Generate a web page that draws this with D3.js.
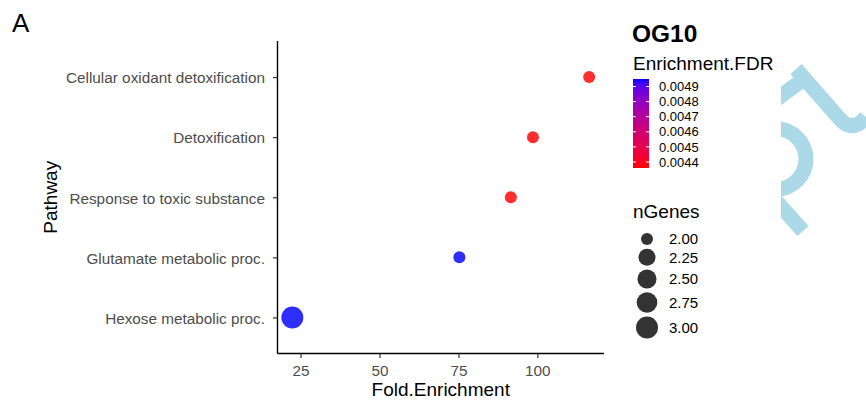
<!DOCTYPE html>
<html>
<head>
<meta charset="utf-8">
<script src="https://cdn.jsdelivr.net/npm/d3@7/dist/d3.min.js"></script>
<style>
  html, body { margin: 0; padding: 0; background: #fff; }
  svg { display: block; font-family: "Liberation Sans", Arial, Helvetica, sans-serif; }
</style>
</head>
<body>
<svg id="chart" width="866" height="402"></svg>
<script>
// ---- data ----
const pathways = [
  "Cellular oxidant detoxification",
  "Detoxification",
  "Response to toxic substance",
  "Glutamate metabolic proc.",
  "Hexose metabolic proc."
];
const foldEnrichment = [116.4, 98.6, 91.6, 75.3, 22.4];
const enrichmentFDR = [0.00436, 0.00436, 0.00436, 0.00495, 0.00495];
const nGenes = [2, 2, 2, 2, 3];
const xTicks = [25, 50, 75, 100];
const fdrTicks = [0.0044, 0.0045, 0.0046, 0.0047, 0.0048, 0.0049];
const sizeTicks = [2.00, 2.25, 2.50, 2.75, 3.00];
const titleText = "OG10";
const panelLabel = "A";

const data = pathways.map((p, i) => ({
  pathway: p, fe: foldEnrichment[i], fdr: enrichmentFDR[i], n: nGenes[i]
}));

const svg = d3.select("#chart");

// ---- layout ----
const P = { left: 277.5, right: 604, top: 41, bottom: 353.5 };

// ggplot-like 5% expansion
const xmin = d3.min(foldEnrichment), xmax = d3.max(foldEnrichment);
const xexp = (xmax - xmin) * 0.05;
const x = d3.scaleLinear().domain([xmin - xexp, xmax + xexp]).range([P.left, P.right]);
const y = d3.scalePoint().domain(pathways).range([P.top, P.bottom]).padding(0.6);

const fdrExtent = d3.extent(enrichmentFDR);
const color = d3.scaleLinear().domain(fdrExtent).range(["red", "blue"]).interpolate(d3.interpolateLab);

const nExtent = d3.extent(nGenes);
const norm = d3.scaleLinear().domain(nExtent).range([0, 1]);
const rArea = d3.scaleSqrt().domain([0, 1]).range([6, 11]);
const radius = v => rArea(norm(v));

// ---- watermark (decorative) ----
const defs = svg.append("defs");
defs.append("clipPath").attr("id", "wmclip")
  .append("rect").attr("x", 781).attr("y", 0).attr("width", 100).attr("height", 402);
const wm = svg.append("g").attr("clip-path", "url(#wmclip)")
  .attr("fill", "none").attr("stroke", "#acd9e7").attr("stroke-width", 15);
wm.append("path").attr("d", "M770 104 L808 76");
wm.append("path").attr("d", "M796 69 L839 118 Q852 134 866 117");
wm.append("path").attr("d", d3.arc()({innerRadius: 23, outerRadius: 38, startAngle: 0, endAngle: Math.PI}))
  .attr("transform", "translate(775.5,159)").attr("fill", "#acd9e7").attr("stroke", "none");
wm.append("path").attr("d", "M768 192 L803 231");

// ---- axes ----
const gx = svg.append("g").attr("transform", `translate(0,${P.bottom})`)
  .call(d3.axisBottom(x).tickValues(xTicks).tickSize(4.5).tickPadding(7).tickFormat(d3.format("d")));
gx.select(".domain").attr("stroke", "#000").attr("stroke-width", 1.4);
gx.selectAll(".tick line").attr("stroke", "#333").attr("stroke-width", 1.2);
gx.selectAll(".tick text").attr("fill", "#4d4d4d").attr("font-size", 15.3)
  .attr("font-family", "Liberation Sans, Arial, sans-serif");

const gy = svg.append("g").attr("transform", `translate(${P.left},0)`)
  .call(d3.axisLeft(y).tickSize(4.5).tickPadding(8));
gy.select(".domain").attr("stroke", "#000").attr("stroke-width", 1.4);
gy.selectAll(".tick line").attr("stroke", "#333").attr("stroke-width", 1.2);
gy.selectAll(".tick text").attr("fill", "#4d4d4d").attr("font-size", 15.3)
  .attr("font-family", "Liberation Sans, Arial, sans-serif").attr("dy", "0.38em");
gx.select(".domain").attr("d", `M${P.left},0H${P.right}`);
gy.select(".domain").attr("d", `M0,${P.top}V${P.bottom}`);

// axis titles
svg.append("text").attr("x", (P.left + P.right) / 2).attr("y", 396)
  .attr("text-anchor", "middle").attr("font-size", 19).attr("fill", "#000").text("Fold.Enrichment");
svg.append("text").attr("transform", `translate(57,${(P.top + P.bottom) / 2}) rotate(-90)`)
  .attr("text-anchor", "middle").attr("font-size", 19).attr("fill", "#000").text("Pathway");

// ---- points ----
svg.append("g").selectAll("circle").data(data).join("circle")
  .attr("cx", d => x(d.fe)).attr("cy", d => y(d.pathway))
  .attr("r", d => radius(d.n))
  .attr("fill", d => color(d.fdr)).attr("fill-opacity", 0.82);

// ---- panel label ----
svg.append("text").attr("x", 12).attr("y", 32).attr("font-size", 26).attr("fill", "#000").text(panelLabel);

// ---- legend: title ----
svg.append("text").attr("x", 632).attr("y", 42).attr("font-size", 24.5).attr("font-weight", "bold")
  .attr("fill", "#000").text(titleText);
svg.append("text").attr("x", 633).attr("y", 70).attr("font-size", 19).attr("fill", "#000").text("Enrichment.FDR");

// ---- colorbar ----
const CB = { x: 633, w: 16, top: 79, bottom: 168 };
const cb = d3.scaleLinear().domain(fdrExtent).range([CB.bottom, CB.top]);
const grad = defs.append("linearGradient").attr("id", "cbgrad")
  .attr("x1", 0).attr("y1", 1).attr("x2", 0).attr("y2", 0);
d3.range(0, 1.0001, 0.05).forEach(t => {
  grad.append("stop").attr("offset", t)
    .attr("stop-color", color(fdrExtent[0] + t * (fdrExtent[1] - fdrExtent[0])));
});
svg.append("rect").attr("x", CB.x).attr("y", CB.top).attr("width", CB.w)
  .attr("height", CB.bottom - CB.top).attr("fill", "url(#cbgrad)");
const cbt = svg.append("g");
fdrTicks.forEach(t => {
  cbt.append("line").attr("x1", CB.x).attr("x2", CB.x + 3).attr("y1", cb(t)).attr("y2", cb(t))
    .attr("stroke", "#fff").attr("stroke-width", 1);
  cbt.append("line").attr("x1", CB.x + CB.w - 3).attr("x2", CB.x + CB.w).attr("y1", cb(t)).attr("y2", cb(t))
    .attr("stroke", "#fff").attr("stroke-width", 1);
  cbt.append("text").attr("x", 659).attr("y", cb(t)).attr("dy", "0.36em")
    .attr("font-size", 13).attr("fill", "#000").text(d3.format(".4f")(t));
});

// ---- size legend ----
svg.append("text").attr("x", 633).attr("y", 218).attr("font-size", 19).attr("fill", "#000").text("nGenes");
let cy = 239, prev = null;
const sl = svg.append("g");
sizeTicks.forEach((v, i) => {
  const r = radius(v);
  if (prev !== null) cy += prev + r + 3.7;
  sl.append("circle").attr("cx", 647).attr("cy", cy).attr("r", r).attr("fill", "#333");
  sl.append("text").attr("x", 669).attr("y", cy).attr("dy", "0.36em")
    .attr("font-size", 15).attr("fill", "#000").text(d3.format(".2f")(v));
  prev = r;
});
</script>
</body>
</html>
